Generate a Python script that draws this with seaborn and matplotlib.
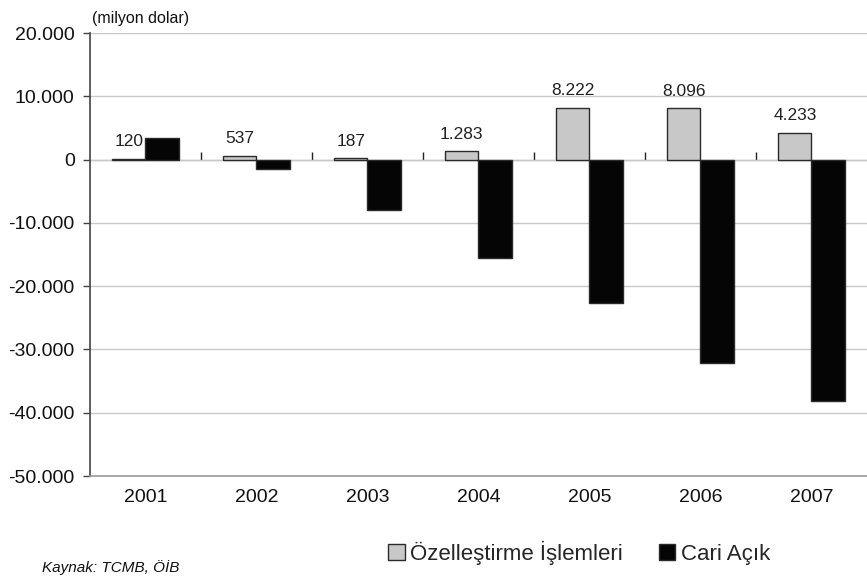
import pandas as pd
import numpy as np
import matplotlib
matplotlib.use('Agg')
import matplotlib.pyplot as plt
import matplotlib.ticker as mticker
import seaborn as sns

# Chart data (milyon dolar)
years = ['2001', '2002', '2003', '2004', '2005', '2006', '2007']
ozellestirme = [120, 537, 187, 1283, 8222, 8096, 4233]
cari_acik = [3400, -1500, -8000, -15600, -22600, -32200, -38200]
series_names = ['Özelleştirme İşlemleri', 'Cari Açık']
y_ticks = [20000, 10000, 0, -10000, -20000, -30000, -40000, -50000]

df = pd.DataFrame({
    'Yıl': years * 2,
    'Değer': ozellestirme + cari_acik,
    'Seri': [series_names[0]] * len(years) + [series_names[1]] * len(years),
})

sns.set_style('white')
plt.rcParams['font.family'] = ['Liberation Sans', 'DejaVu Sans']

def tr_fmt(v, pos=None):
    return f"{int(round(v)):,}".replace(',', '.')

fig = plt.figure(figsize=(8.67, 5.77), dpi=100)
ax = fig.add_axes([0.1038, 0.175, 0.8962, 0.7678])

sns.barplot(data=df, x='Yıl', y='Değer', hue='Seri', palette=['#c8c8c8', '#050505'],
            width=0.6, edgecolor='#2a2a2a', linewidth=1.0, saturation=1, ax=ax)

ymin, ymax = min(y_ticks), max(y_ticks)
ax.set_ylim(ymin, ymax)
ax.set_xlim(-0.5, len(years) - 0.5)
ax.set_yticks(y_ticks)
ax.yaxis.set_major_formatter(mticker.FuncFormatter(tr_fmt))
ax.yaxis.grid(True, color='#c8c8c8', linewidth=1.0)
ax.set_axisbelow(True)
ax.set_xlabel('')
ax.set_ylabel('')

ax.tick_params(axis='y', labelsize=14, length=5, width=1, color='#444444', direction='out', left=True, pad=6)
ax.tick_params(axis='x', labelsize=14, length=0, pad=9)
for lbl in ax.get_xticklabels() + ax.get_yticklabels():
    lbl.set_color('#111111')

for s in ['top', 'right']:
    ax.spines[s].set_visible(False)
ax.spines['left'].set_color('#444444')
ax.spines['left'].set_linewidth(1.2)
ax.spines['bottom'].set_color('#999999')
ax.spines['bottom'].set_linewidth(1.2)

# category axis crossing at zero with tick marks between categories
zero_frac = (0 - ymin) / (ymax - ymin)
sec = ax.secondary_xaxis(zero_frac)
sec.set_xticks(np.arange(len(years) - 1) + 0.5)
sec.set_xticklabels([])
sec.tick_params(length=6, width=1, color='#222222', direction='out')
sec.spines['bottom'].set_color('#111111')
sec.spines['bottom'].set_linewidth(1.2)

# value labels above the grey bars
ax.bar_label(ax.containers[0], labels=[tr_fmt(v) for v in ozellestirme],
             padding=7, fontsize=12.5, color='#222222')

# legend at bottom
handles, labels = ax.get_legend_handles_labels()
ax.legend_.remove()
fig.legend(handles, labels, loc='center', bbox_to_anchor=(0.668, 0.042), ncol=2,
           frameon=False, fontsize=16, handlelength=0.75, handleheight=0.75,
           handletextpad=0.25, columnspacing=1.6)

fig.text(0.106, 0.968, '(milyon dolar)', fontsize=11.5, color='#111111', va='center')
fig.text(0.048, 0.017, 'Kaynak: TCMB, ÖİB', fontsize=11, style='italic', color='#111111', va='center')

fig.savefig('out.png', dpi=100)
